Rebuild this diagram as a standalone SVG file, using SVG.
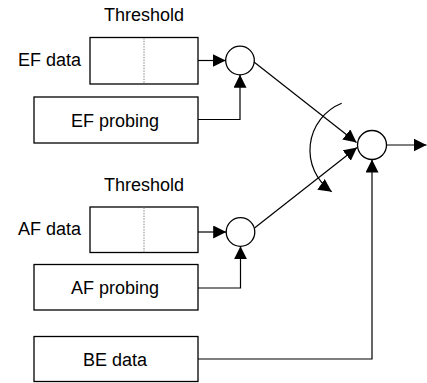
<svg xmlns="http://www.w3.org/2000/svg" width="427" height="383" viewBox="0 0 427 383">
<style>
  .box{fill:#fff;stroke:#000;stroke-width:1.3}
  .node{fill:#fff;stroke:#000;stroke-width:1.3}
  .dot{stroke:#888;stroke-width:1;stroke-dasharray:1.5,1.2}
  .wire{fill:none;stroke:#000;stroke-width:1.2}
  .arr{marker-end:url(#ah)}
  text{font-family:"Liberation Sans",Arial,sans-serif;font-size:18px;fill:#000}
  .c{text-anchor:middle}
  .e{text-anchor:end}
</style>
<defs>
  <marker id="ah" markerUnits="userSpaceOnUse" markerWidth="14" markerHeight="14" refX="13" refY="6.5" orient="auto">
    <path d="M0,0 L13,6.5 L0,13 z" fill="#000"/>
  </marker>
</defs>
<rect width="427" height="383" fill="#fff"/>
<g id="ef-data">
  <text class="c" x="144" y="21">Threshold</text>
  <text class="e" x="81" y="66">EF data</text>
  <rect class="box" x="90" y="37.5" width="108" height="46.5"/>
  <line class="dot" x1="144" y1="38" x2="144" y2="84"/>
</g>
<g id="ef-probing">
  <rect class="box" x="34" y="97" width="164" height="46"/>
  <text class="c" x="115" y="127">EF probing</text>
</g>
<g id="ef-node">
  <circle class="node" cx="240" cy="60.5" r="14.3"/>
</g>
<g id="af-data">
  <text class="c" x="144" y="191">Threshold</text>
  <text class="e" x="81" y="235">AF data</text>
  <rect class="box" x="90" y="207" width="108" height="45.5"/>
  <line class="dot" x1="144" y1="207.5" x2="144" y2="252.5"/>
</g>
<g id="af-probing">
  <rect class="box" x="34" y="264.5" width="164" height="45.5"/>
  <text class="c" x="115" y="294">AF probing</text>
</g>
<g id="af-node">
  <circle class="node" cx="240.5" cy="232" r="14.3"/>
</g>
<g id="be-data">
  <rect class="box" x="34" y="336.5" width="164" height="45"/>
  <text class="c" x="115" y="366">BE data</text>
</g>
<g id="sum-node">
  <circle class="node" cx="372" cy="145" r="14.5"/>
</g>
<g id="connectors">
  <path class="wire arr" d="M198,60.5 H225.7"/>
  <path class="wire arr" d="M198,119.5 H240 V74.8"/>
  <path class="wire arr" d="M198,232 H226.2"/>
  <path class="wire arr" d="M198,288 H240.5 V246.3"/>
  <path class="wire arr" d="M198,359 H372 V159.5"/>
  <path class="wire arr" d="M254,62 L356.5,142.5"/>
  <path class="wire arr" d="M254.5,228 L357,147.5"/>
  <path class="wire arr" d="M386.5,145 H426.5"/>
  <path class="wire arr" d="M341.7,103.3 A50.5,50.5 0 0 0 331.7,191.7"/>
</g>
</svg>
